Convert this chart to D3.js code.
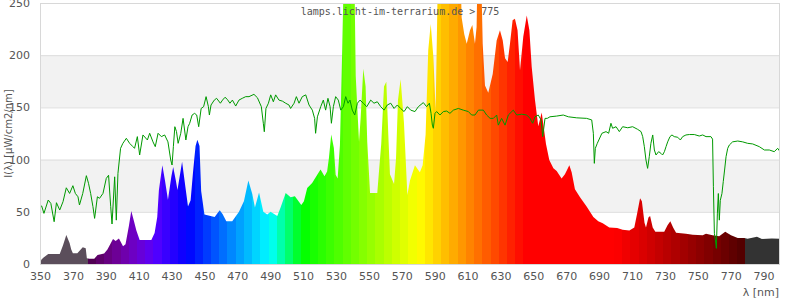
<!DOCTYPE html>
<html>
<head>
<meta charset="utf-8">
<script src="https://cdn.jsdelivr.net/npm/d3@7"></script>
<style>
  body { margin: 0; background: #fff; }
  svg text { font-family: "DejaVu Sans", Verdana, sans-serif; font-size: 10px; fill: #555; }
  svg text.title { font-family: "DejaVu Sans Mono", monospace; }
</style>
</head>
<body>
<svg width="800" height="300"></svg>
<script>
const WIDTH  = 800
const HEIGHT = 300
const PLOT   = { left: 40, right: 780, top: 3, bottom: 264 }

const TITLE  = "lamps.licht-im-terrarium.de > 775"
const Y_LABEL = "I(λ) [µW/cm2/nm]"
const X_LABEL = "λ [nm]"

const xTicks = d3.range(350, 791, 20)
const yTicks = [0, 50, 100, 150, 200, 250]

// lamp spectrum (wavelength, intensity); values over 250 run off the top
const specNm = [350, 350.8, 352, 355, 362, 364, 366, 368, 369, 370, 372.7, 376, 377.8, 378.5, 380, 383, 385, 389, 391,
  394.4, 396, 398, 400.5, 402, 404, 405.5, 407, 408.6, 410.6, 417.7, 419.7, 421.3, 422.3, 424.4, 426, 427.8, 429.9,
  431, 432.6, 433.6, 436.4, 438.4, 440, 441.6, 443, 444.6, 445.7, 447, 448, 450, 456.2, 459.3, 461, 463.3, 466.9,
  471, 474, 476.7, 479.1, 480.7, 483.2, 485.8, 488.2, 490.2, 494.3, 496.3, 499.4, 502.4, 505, 508.9, 510.5, 512.5,
  515.5, 518.6, 520.6, 523, 524.6, 525.7, 527.1, 528.7, 529.8, 531, 532.4, 533.8, 535, 541, 542, 544, 545, 546.6,
  548, 549, 550.7, 555.1, 556, 557.5, 559.2, 560.6, 561.8, 562.8, 565.3, 566.5, 567.7, 569.3, 571.3, 573.4, 575,
  578, 581, 582.7, 584.5, 586.1, 587.6, 589.2, 590.6, 592.2, 605.4, 606.4, 608, 609.5, 611.5, 612.9, 614.5, 615.5,
  616.3, 618, 619.2, 620.6, 622.6, 625.3, 627.7, 629.7, 631.4, 632.8, 634.4, 635.8, 637.4, 638.8, 640.4, 641.9,
  643.9, 646, 647.6, 649, 651, 653, 655.1, 657.7, 659.7, 662.2, 664.2, 667.2, 669.2, 671.9, 673.3, 675.3, 678.4,
  682.4, 686.5, 689.5, 692.2, 696.2, 701, 704.3, 708.4, 711.4, 713, 714.9, 716, 717.6, 718.5, 720, 721, 722.6,
  724.2, 729.6, 731.6, 733.3, 735, 736.8, 742.8, 746.9, 753, 755, 759, 763, 766.7, 770.2, 774.3, 778.3, 780.3, 786,
  789, 795, 800]
const specVal = [0, 4, 6, 9.6, 9.6, 18, 27.8, 20, 14, 10.2, 10.2, 16, 15, 5.4, 5, 5, 8.6, 10, 14,
  24, 22, 24.5, 17, 19, 36, 50.8, 42, 32, 23, 23, 29.7, 45, 70.7, 94.6, 80, 61.6, 84,
  93, 80, 71, 98, 74, 55, 61, 87, 113, 119, 113, 70, 47.5, 45, 51.5, 48, 41, 41,
  50, 60, 80, 67, 54, 68.5, 50, 47.5, 50, 46, 54, 68, 64, 65, 56.5, 60, 72.7,
  77.5, 85.6, 90.5, 84, 88.7, 101.5, 124, 111, 85.6, 82, 114, 207, 300, 300, 180, 117, 140, 187,
  170, 117, 68, 68, 86, 115, 170, 174.6, 124, 86, 76.6, 101, 157, 177, 136, 66, 80,
  94.6, 88, 94.6, 124, 205, 230, 198.5, 147, 300, 300, 236, 220, 211, 224, 229, 211, 227,
  300, 300, 211, 171, 164, 182, 214, 224, 214, 197, 193.6, 211, 233.5, 235, 224, 185.6,
  218, 238, 224, 189, 157, 132, 145, 115, 99.6, 91.6, 89, 82, 86, 94.6, 88, 71.5, 64,
  55, 45, 41, 39, 35, 34.6, 32.7, 32, 35, 47.5, 63, 60, 39.6, 35, 44.5, 46, 35,
  31, 31, 37, 41, 35, 30, 29, 28, 27.5, 29, 27.5, 26.5, 31, 27.5, 25, 25, 24.3, 26,
  24, 24.5, 24.3]

// green reference curve
const refNm = [350, 351, 352.4, 355, 356.6, 358.6, 360, 362, 364, 366, 368, 370, 371.5, 373.1, 374, 376, 378.2, 379.5,
  380.8, 382.2, 383.2, 384.9, 386.2, 388.3, 390.3, 391.7, 393, 393.8, 395.4, 396.4, 397.4, 399, 400.4, 402.5, 404.5,
  406.5, 407.5, 409.2, 410.6, 412.6, 415.3, 416.7, 418.7, 420.1, 421.8, 423.8, 425.8, 427.8, 429.5, 430.3, 431.1,
  432, 433, 434, 435.6, 437, 438.7, 440, 441, 442.5, 444, 445.3, 446.5, 448, 449.5, 451, 452.4, 453, 454, 456,
  457.4, 459.7, 461, 462.5, 463.9, 465.5, 467, 469, 471, 473, 475.1, 477.1, 480.1, 482.2, 484.6, 485.8, 486.4,
  487.4, 488.9, 490.3, 491.9, 493.3, 495.3, 497.4, 499.4, 501.4, 502.4, 504.5, 505.9, 507.5, 509.5, 511.6, 513.6,
  515.6, 517, 517.6, 518.7, 520.7, 522.3, 523.7, 525.1, 526.4, 527.2, 528.4, 529.8, 531.4, 532.9, 534.5, 535.9,
  537.3, 538.5, 539.9, 541.4, 543, 544.6, 546.6, 548.7, 551.1, 553.1, 555.1, 557.2, 559.2, 561.2, 563.3, 565.3,
  567.3, 569.3, 571.4, 573.4, 575.4, 578, 580.1, 583.1, 585.1, 586.8, 587.8, 588.6, 589.2, 590.2, 591.2, 593.2,
  595.3, 597.3, 599.3, 601.4, 604.4, 607.4, 610.5, 612.5, 614.5, 616.6, 619.6, 621.6, 623.7, 625.7, 627.7, 628.7,
  630.7, 632.8, 634.8, 637.8, 639.9, 642.9, 646, 648, 649.6, 651, 653, 654.7, 655.7, 657.1, 658.5, 660.1, 664.2,
  668.2, 671.3, 676.4, 682.4, 685.5, 686.5, 687.1, 687.7, 688.9, 691.7, 694.2, 695.8, 697.2, 698.2, 700.3, 702.3,
  704.3, 707.4, 710.4, 713.4, 715.5, 716.5, 717.5, 718.5, 719.5, 720.5, 721.5, 722.6, 723.6, 724.6, 726.2, 727.6,
  728.6, 729.7, 730.7, 731.7, 733.1, 734.3, 735.7, 737.8, 739.4, 740.8, 742.8, 744.9, 747.9, 750.9, 753, 755, 758,
  759, 759.5, 760.1, 760.7, 761.3, 761.9, 762.5, 763.1, 763.7, 764.7, 765.5, 766.3, 767.2, 768.2, 769.2, 771.2,
  774.3, 777.3, 780.3, 783.4, 787.4, 790.5, 793.5, 796.5, 798.6, 800]
const refVal = [55, 55.6, 48.5, 61.3, 58, 40.5, 58.7, 51.7, 59.7, 73, 67.6, 75, 67.6, 64.4, 56.5, 67.6, 84.6, 77.3,
  67.6, 54.9, 43.7, 64.4, 62.9, 67.6, 82, 85, 54.9, 38.3, 83.5, 42, 86.8, 110.8, 115.6, 120.4, 115.6,
  112.4, 110.8, 122, 104.4, 123.6, 118.8, 125.2, 117, 112.4, 125.2, 122, 123.6, 117, 99.6, 94.8, 112.4,
  131.5, 126.8, 115.6, 125.2, 139.5, 118.8, 131.5, 134.7, 142.7, 144.3, 142.7, 131.5, 149, 150.7, 160.3, 150.7, 142.7, 152.3, 157,
  158.7, 154, 157, 159.7, 157.7, 154, 157, 151.3, 157, 158.7, 160.3, 160.3, 162.5, 159.3, 150.7, 134.8, 126.7,
  149, 154, 162, 155.4, 162, 157, 156, 154, 152.3, 149, 154, 160.3, 154, 160.3, 162, 152.3,
  147.4, 139.5, 125.2, 141, 150.7, 157, 147.4, 158.7, 150.7, 134.8, 150.7, 160.3, 157, 147.4, 150.7, 160.3,
  154, 157, 147.4, 142.7, 154, 157, 154, 150.7, 157, 154, 155.4, 150.7, 147.4, 152.3, 154, 149,
  152.3, 149, 146, 150.7, 147.4, 146, 150.7, 154.6, 150.7, 154, 144.3, 133, 130, 144.3, 146, 142.7,
  146, 146.5, 144.3, 147.4, 149, 147.4, 146, 142.7, 142.7, 147.4, 147.4, 142.7, 139.5, 139.5, 142.7, 133,
  139.5, 133, 142.7, 147.4, 142.7, 143.5, 142.7, 139.5, 134.8, 141, 142.7, 138, 122, 139.5, 139.5, 141, 141.7,
  142.7, 141, 140, 139.5, 138, 125.2, 96.4, 110.8, 115.6, 125.2, 126.8, 125.2, 134.8, 130, 131.5, 126.8,
  131.5, 130.5, 131.5, 129, 126.8, 122, 112.4, 99.6, 91.6, 102.8, 115.6, 123.6, 109.2, 104.4, 107.6, 106,
  104.4, 107.6, 112.4, 117, 122, 123.6, 122, 121.4, 118.8, 122, 123.6, 124, 124, 122.6, 123.6, 122, 122,
  119.6, 74, 29.4, 23, 15, 48, 67.5, 42, 61, 67.5, 79, 90, 102.8, 110.8, 114, 117,
  117.8, 117, 115.6, 115, 112.4, 109.2, 109.2, 107.6, 110.8, 107.6]

const UV_COLOR = "#5b4e5b"
const IR_COLOR = "#333333"

// classic wavelength -> rgb approximation
function wavelengthColor(w) {
  let r = 0, g = 0, b = 0
  if (w < 440)      { r = (440 - w) / 60; b = 1 }
  else if (w < 490) { g = (w - 440) / 50; b = 1 }
  else if (w < 510) { g = 1; b = (510 - w) / 20 }
  else if (w < 580) { r = (w - 510) / 70; g = 1 }
  else if (w < 645) { r = 1; g = (645 - w) / 65 }
  else              { r = 1 }
  let f = 1
  if (w < 420) f = 0.3 + 0.7 * (w - 380) / 40
  else if (w > 700) f = 0.3 + 0.7 * (780 - w) / 80
  return d3.rgb(r * f * 255, g * f * 255, b * f * 255).formatHex()
}

const svg = d3.select("svg").attr("width", WIDTH).attr("height", HEIGHT)

const x = d3.scaleLinear().domain([350, 800]).range([PLOT.left, PLOT.right])
const y = d3.scaleLinear().domain([0, 250]).range([PLOT.bottom, PLOT.top])

// alternating background bands
const bands = d3.pairs(yTicks).filter((d, i) => i % 2 == 1)
svg.append("g").selectAll("rect").data(bands).join("rect")
  .attr("x", PLOT.left)
  .attr("width", PLOT.right - PLOT.left)
  .attr("y", d => y(d[1]))
  .attr("height", d => y(d[0]) - y(d[1]))
  .attr("fill", "#f2f2f2")

svg.append("g").selectAll("line").data(yTicks.slice(1)).join("line")
  .attr("x1", PLOT.left).attr("x2", PLOT.right)
  .attr("y1", d => y(d) + 0.5).attr("y2", d => y(d) + 0.5)
  .attr("stroke", "#dddddd")

// stepped colour gradient, 5 nm bands
const defs = svg.append("defs")
const grad = defs.append("linearGradient")
  .attr("id", "spectrum")
  .attr("gradientUnits", "userSpaceOnUse")
  .attr("x1", x(350)).attr("x2", x(800))
  .attr("y1", 0).attr("y2", 0)

const stops = [{ from: 350, to: 379, color: UV_COLOR }]
for (let w = 379; w < 779; w += 5) {
  stops.push({ from: w, to: w + 5, color: wavelengthColor(w + 2.5) })
}
stops.push({ from: 779, to: 800, color: IR_COLOR })
const toOffset = w => (w - 350) / 450
stops.forEach(s => {
  grad.append("stop").attr("offset", toOffset(s.from)).attr("stop-color", s.color)
  grad.append("stop").attr("offset", toOffset(s.to)).attr("stop-color", s.color)
})

defs.append("clipPath").attr("id", "plot-clip")
  .append("rect")
  .attr("x", PLOT.left).attr("y", PLOT.top)
  .attr("width", PLOT.right - PLOT.left)
  .attr("height", PLOT.bottom - PLOT.top)

const spectrum = specNm.map((w, i) => [w, specVal[i]])
const reference = refNm.map((w, i) => [w, refVal[i]])

const area = d3.area()
  .x(d => x(d[0]))
  .y0(y(0))
  .y1(d => y(d[1]))

svg.append("path")
  .datum(spectrum)
  .attr("clip-path", "url(#plot-clip)")
  .attr("fill", "url(#spectrum)")
  .attr("d", area)

const line = d3.line()
  .x(d => x(d[0]))
  .y(d => y(d[1]))

svg.append("path")
  .datum(reference)
  .attr("clip-path", "url(#plot-clip)")
  .attr("fill", "none")
  .attr("stroke", "#009900")
  .attr("stroke-width", 1)
  .attr("d", line)

// frame
svg.append("rect")
  .attr("x", PLOT.left + 0.5).attr("y", PLOT.top + 0.5)
  .attr("width", PLOT.right - PLOT.left - 1)
  .attr("height", PLOT.bottom - PLOT.top)
  .attr("fill", "none")
  .attr("stroke", "#d8d8d8")

svg.append("text").attr("class", "title")
  .attr("x", 400).attr("y", 15)
  .attr("text-anchor", "middle")
  .text(TITLE)

// axes, drawn with d3 axis but no tick marks or domain
const xAxis = svg.append("g")
  .attr("transform", `translate(0,${PLOT.bottom})`)
  .call(d3.axisBottom(x).tickValues(xTicks).tickSize(0).tickPadding(8).tickFormat(d3.format("d")))
xAxis.select(".domain").remove()

const yAxis = svg.append("g")
  .attr("transform", `translate(${PLOT.left},0)`)
  .call(d3.axisLeft(y).tickValues(yTicks).tickSize(0).tickPadding(10))
yAxis.select(".domain").remove()

svg.selectAll(".tick text")
  .attr("font-size", null).attr("font-family", null).attr("fill", null)
  .style("fill", "#555").style("font-size", "11px")

svg.append("text")
  .attr("transform", `translate(12,${(PLOT.top + PLOT.bottom) / 2}) rotate(-90)`)
  .attr("text-anchor", "middle")
  .text(Y_LABEL)

svg.append("text")
  .attr("x", 779).attr("y", 296)
  .attr("text-anchor", "end")
  .style("font-size", "11px")
  .text(X_LABEL)
</script>
</body>
</html>
